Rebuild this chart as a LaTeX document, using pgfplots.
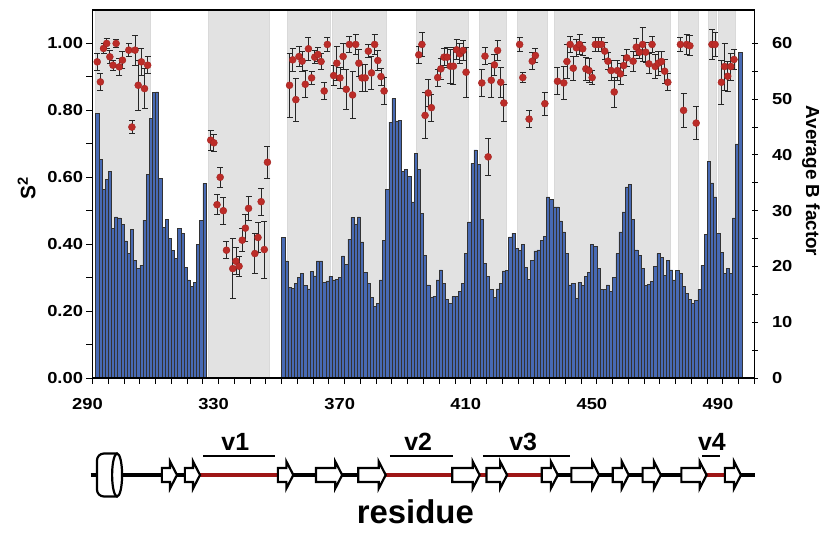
\documentclass[border=0pt]{standalone}
\usepackage{pgfplots}
\pgfplotsset{compat=1.18}
\usepackage{fontspec}
\setmainfont{Liberation Sans}
\newfontfamily\tickfont{Liberation Sans}[FakeStretch=1.15]
\usetikzlibrary{calc}

\definecolor{barblue}{RGB}{72,106,180}
\definecolor{shade}{RGB}{226,226,226}
\definecolor{dotred}{RGB}{188,44,40}
\definecolor{loopred}{RGB}{158,22,22}

\pgfplotsset{
  residueaxis/.style={
    width=662bp, height=368bp, scale only axis,
    xmin=290, xmax=500,
    tick align=outside,
    major tick length=6bp, minor tick length=6bp,
    every tick/.style={black, line width=1bp},
    axis line style={black, line width=1.4bp},
    tick label style={font=\tickfont\fontsize{16}{18}\selectfont\bfseries},
    /pgf/number format/assume math mode=true,
  },
}

\begin{document}
\begin{tikzpicture}
% right axis: average B factor (bars) and shaded segments
\begin{axis}[residueaxis,
    ymin=0, ymax=66,
    hide x axis,
    axis y line=right,
    every outer y axis line/.append style={-},
    ytick={0,10,...,60}, minor ytick={5,15,...,55},
    yticklabel style={xshift=11bp},
]
\addplot[fill=shade, draw=gray!30, line width=0.4bp] coordinates {(291,0) (291,66) (308.2,66) (308.2,0)} -- cycle;
\addplot[fill=shade, draw=gray!30, line width=0.4bp] coordinates {(326.7,0) (326.7,66) (346.2,66) (346.2,0)} -- cycle;
\addplot[fill=shade, draw=gray!30, line width=0.4bp] coordinates {(351.7,0) (351.7,66) (365.5,66) (365.5,0)} -- cycle;
\addplot[fill=shade, draw=gray!30, line width=0.4bp] coordinates {(366.0,0) (366.0,66) (383.2,66) (383.2,0)} -- cycle;
\addplot[fill=shade, draw=gray!30, line width=0.4bp] coordinates {(392.7,0) (392.7,66) (409.2,66) (409.2,0)} -- cycle;
\addplot[fill=shade, draw=gray!30, line width=0.4bp] coordinates {(412.7,0) (412.7,66) (421.2,66) (421.2,0)} -- cycle;
\addplot[fill=shade, draw=gray!30, line width=0.4bp] coordinates {(424.8,0) (424.8,66) (434.3,66) (434.3,0)} -- cycle;
\addplot[fill=shade, draw=gray!30, line width=0.4bp] coordinates {(436.5,0) (436.5,66) (473.1,66) (473.1,0)} -- cycle;
\addplot[fill=shade, draw=gray!30, line width=0.4bp] coordinates {(475.7,0) (475.7,66) (482.1,66) (482.1,0)} -- cycle;
\addplot[fill=shade, draw=gray!30, line width=0.4bp] coordinates {(485.3,0) (485.3,66) (487.8,66) (487.8,0)} -- cycle;
\addplot[fill=shade, draw=gray!30, line width=0.4bp] coordinates {(488.6,0) (488.6,66) (494.0,66) (494.0,0)} -- cycle;

% B factor, residues 291-325
\addplot[ybar, bar width=1, fill=barblue, draw=black!80, line width=0.5bp,
  x filter/.expression={x+0.5}] coordinates {
(291,47.4) (292,39.2) (293,33.8) (294,35.6) (295,37.0) (296,26.8) (297,28.9)
(298,28.7) (299,27.6) (300,24.6) (301,22.3) (302,26.6) (303,21.1) (304,19.6)
(305,20.2) (306,28.3) (307,36.5) (308,46.5) (309,51.2) (310,51.3) (311,35.8)
(312,27.0) (313,28.4) (314,25.0) (315,22.9) (316,21.4) (317,26.8) (318,26.0)
(319,19.8) (320,17.6) (321,16.4) (322,17.1) (323,24.0) (324,28.3) (325,34.9)
};
% B factor, residues 350-495
\addplot[ybar, bar width=1, fill=barblue, draw=black!80, line width=0.5bp,
  x filter/.expression={x+0.5}] coordinates {
(350,25.2) (351,21.0) (352,16.3) (353,16.1) (354,17.0) (355,18.1) (356,18.7)
(357,16.6) (358,16.0) (359,19.1) (360,18.3) (361,21.0) (362,21.0) (363,17.2)
(364,17.4) (365,18.2) (366,17.6) (367,17.7) (368,18.0) (369,21.9) (370,20.4)
(371,24.9) (372,28.8) (373,27.6) (374,28.9) (375,24.4) (376,18.9) (377,17.0)
(378,14.4) (379,12.8) (380,13.4) (381,17.6) (382,24.7) (383,33.8) (384,45.9)
(385,50.1) (386,46.1) (387,46.2) (388,37.0) (389,37.4) (390,36.1) (391,31.6)
(392,40.3) (393,37.4) (394,29.5) (395,22.0) (396,16.7) (397,14.4) (398,14.7)
(399,17.6) (400,19.4) (401,17.0) (402,14.1) (403,13.4) (404,14.6) (405,14.6)
(406,15.6) (407,17.0) (408,22.3) (409,28.0) (410,38.5) (411,40.9) (412,38.3)
(413,28.4) (414,20.6) (415,18.2) (416,15.9) (417,14.4) (418,16.0) (419,17.0)
(420,19.2) (421,19.3) (422,25.3) (423,26.0) (424,23.2) (425,22.9) (426,24.0)
(427,19.9) (428,17.7) (429,21.1) (430,22.8) (431,23.0) (432,24.7) (433,25.4)
(434,32.5) (435,32.0) (436,30.7) (437,30.7) (438,28.2) (439,26.2) (440,22.3)
(441,16.7) (442,17.0) (443,14.3) (444,17.1) (445,16.6) (446,18.2) (447,18.9)
(448,24.0) (449,23.6) (450,19.6) (451,15.9) (452,15.9) (453,16.7) (454,15.6)
(455,18.1) (456,22.3) (457,26.2) (458,29.8) (459,34.3) (460,34.7) (461,28.4)
(462,23.0) (463,22.0) (464,19.6) (465,16.6) (466,16.8) (467,17.3) (468,20.0)
(469,22.3) (470,21.6) (471,18.4) (472,21.1) (473,19.4) (474,17.6) (475,19.3)
(476,18.7) (477,16.5) (478,15.2) (479,14.1) (480,13.4) (481,13.9) (482,15.9)
(483,20.2) (484,25.7) (485,38.9) (486,35.0) (487,32.5) (488,25.9) (489,22.5)
(490,18.7) (491,19.6) (492,18.7) (493,28.7) (494,42.0) (495,58.4)
};
\end{axis}

% left axis: order parameter S2 with errors
\begin{axis}[residueaxis,
    ymin=0, ymax=1.1,
    tick pos=left,
    xtick={290,330,...,490}, minor xtick={290,295,...,500},
    ytick={0,0.2,0.4,0.6,0.8,1.0}, minor ytick={0.1,0.3,0.5,0.7,0.9},
    yticklabel style={/pgf/number format/.cd, fixed, fixed zerofill, precision=2},
    xticklabel style={xshift=-5bp, yshift=-11bp},
    clip=false,
]
\coordinate (orig) at (axis cs:290,0);
\addplot[only marks, mark=*, mark size=3.5bp,
  mark options={fill=dotred, draw=dotred!85!black, line width=0.4bp},
  x filter/.expression={x+0.5},
  error bars/.cd, y dir=both, y explicit,
  error bar style={black!85, line width=0.8bp},
  error mark options={black!85, line width=0.8bp, mark size=3bp, rotate=90}]
coordinates {
(291,0.945) +- (0,0.025) (292,0.885) +- (0,0.025) (293,0.985) +- (0,0.015)
(294,1.000) +- (0,0.015) (295,0.960) +- (0,0.020) (296,0.935) +- (0,0.015)
(297,1.000) +- (0,0.012) (298,0.930) +- (0,0.025) (299,0.950) +- (0,0.025)
(301,0.980) +- (0,0.020) (302,0.750) +- (0,0.020) (303,0.980) +- (0,0.045)
(304,0.875) +- (0,0.075) (305,0.945) +- (0,0.040) (306,0.865) +- (0,0.060)
(307,0.935) +- (0,0.025)
(327,0.711) +- (0,0.030) (328,0.703) +- (0,0.025) (329,0.518) +- (0,0.030)
(330,0.600) +- (0,0.030) (331,0.500) +- (0,0.040) (332,0.382) +- (0,0.025)
(334,0.327) +- (0,0.090) (335,0.349) +- (0,0.040) (336,0.334) +- (0,0.030)
(337,0.412) +- (0,0.035) (338,0.448) +- (0,0.040) (339,0.507) +- (0,0.035)
(341,0.372) +- (0,0.060) (342,0.420) +- (0,0.045) (343,0.527) +- (0,0.040)
(344,0.384) +- (0,0.085) (345,0.645) +- (0,0.048)
(352,0.875) +- (0,0.095) (353,0.951) +- (0,0.035) (354,0.832) +- (0,0.065)
(355,0.961) +- (0,0.030) (356,0.947) +- (0,0.030) (357,0.878) +- (0,0.040)
(358,0.984) +- (0,0.035) (359,0.897) +- (0,0.020) (360,0.959) +- (0,0.020)
(361,0.967) +- (0,0.020) (362,0.946) +- (0,0.025) (363,0.858) +- (0,0.025)
(364,0.997) +- (0,0.020) (366,0.904) +- (0,0.030) (367,0.941) +- (0,0.050)
(368,0.897) +- (0,0.030) (369,0.961) +- (0,0.040) (370,0.863) +- (0,0.060)
(371,0.997) +- (0,0.025) (372,0.846) +- (0,0.070) (373,0.997) +- (0,0.030)
(374,0.941) +- (0,0.040) (375,0.897) +- (0,0.040) (376,0.897) +- (0,0.040)
(377,0.977) +- (0,0.020) (378,0.912) +- (0,0.050) (379,0.997) +- (0,0.030)
(380,0.949) +- (0,0.030) (381,0.901) +- (0,0.025) (382,0.858) +- (0,0.040)
(393,0.966) +- (0,0.025) (394,0.997) +- (0,0.035) (395,0.785) +- (0,0.070)
(396,0.852) +- (0,0.040) (397,0.808) +- (0,0.040) (399,0.898) +- (0,0.025)
(400,0.924) +- (0,0.030) (401,0.959) +- (0,0.025) (402,0.959) +- (0,0.030)
(403,0.932) +- (0,0.050) (404,0.932) +- (0,0.055) (405,0.981) +- (0,0.030)
(406,0.969) +- (0,0.030) (407,0.979) +- (0,0.030) (408,0.914) +- (0,0.075)
(413,0.882) +- (0,0.040) (414,0.962) +- (0,0.025) (415,0.661) +- (0,0.055)
(416,0.890) +- (0,0.050) (417,0.936) +- (0,0.030) (418,0.979) +- (0,0.030)
(419,0.884) +- (0,0.045) (420,0.822) +- (0,0.055)
(425,0.997) +- (0,0.020) (426,0.898) +- (0,0.015) (428,0.774) +- (0,0.025)
(429,0.947) +- (0,0.025) (430,0.964) +- (0,0.020) (433,0.820) +- (0,0.035)
(437,0.887) +- (0,0.040) (439,0.882) +- (0,0.050) (440,0.946) +- (0,0.050)
(441,0.997) +- (0,0.025) (442,0.926) +- (0,0.035) (443,0.987) +- (0,0.025)
(444,0.997) +- (0,0.030) (445,0.984) +- (0,0.020) (446,0.924) +- (0,0.035)
(447,0.919) +- (0,0.035) (448,0.898) +- (0,0.020) (449,0.997) +- (0,0.020)
(450,0.997) +- (0,0.020) (451,0.997) +- (0,0.020) (452,0.977) +- (0,0.025)
(453,0.947) +- (0,0.025) (454,0.919) +- (0,0.030) (455,0.855) +- (0,0.045)
(456,0.919) +- (0,0.030) (457,0.909) +- (0,0.030) (458,0.934) +- (0,0.030)
(459,0.957) +- (0,0.025) (461,0.947) +- (0,0.030) (462,0.989) +- (0,0.025)
(463,0.974) +- (0,0.020) (464,0.997) +- (0,0.050) (465,0.974) +- (0,0.030)
(466,0.939) +- (0,0.030) (467,0.997) +- (0,0.025) (468,0.931) +- (0,0.035)
(469,0.941) +- (0,0.035) (470,0.946) +- (0,0.030) (471,0.917) +- (0,0.035)
(472,0.884) +- (0,0.025)
(476,0.997) +- (0,0.020) (477,0.800) +- (0,0.050) (478,0.997) +- (0,0.030)
(479,0.993) +- (0,0.030) (481,0.762) +- (0,0.050)
(486,0.997) +- (0,0.045) (487,0.997) +- (0,0.035) (489,0.884) +- (0,0.065)
(490,0.931) +- (0,0.070) (491,0.902) +- (0,0.045) (492,0.931) +- (0,0.040)
(493,0.952) +- (0,0.030)
};
\end{axis}

% axis titles
\node[rotate=90, font=\fontsize{21}{23}\selectfont\bfseries] at ($(orig)+(-66bp,190bp)$) {S\textsuperscript{2}};
\node[rotate=-90, font=\fontsize{19}{21}\selectfont\bfseries] at ($(orig)+(718.5bp,197bp)$) {Average B factor};

% secondary structure of the residues, drawn on the residue scale
\begin{scope}[shift={(orig)}, xshift=-916.7bp, yshift=-97bp, x=3.1524bp, y=1bp]
  \draw[line width=3.4bp] (290.2,0) -- (501,0);
  \foreach \a/\b in {324.9/349.6, 383.8/404.9, 413.6/415.8, 422.3/433.3, 485.6/491.4}
    \draw[line width=3.4bp, loopred] (\a,0) -- (\b,0);
  \draw[line width=2.2bp, fill=white, rounded corners=7bp]
    (298.6,-21.5) -- (292.2,-21.5) -- (292.2,21.5) -- (298.6,21.5);
  \draw[line width=2.2bp, fill=white] (298.6,0) ellipse [x radius=5bp, y radius=21.5bp];
  \foreach \a/\b in {312.8/317.6, 320.1/324.9, 349.6/354.5, 361.7/370, 375.1/383.8,
      404.9/413.6, 415.8/422.3, 433.3/438.4, 442.7/451.5, 455.8/460.9,
      465.3/471.1, 477.6/485.6, 491.4/496.5}
    \draw[line width=2.2bp, fill=white, line join=miter]
      (\a,-7) -- ({\b-2.2},-7) -- ({\b-2.2},-13.5) -- (\b,0)
      -- ({\b-2.2},13.5) -- ({\b-2.2},7) -- (\a,7) -- cycle;
  \foreach \a/\b in {325.9/348.6, 385.1/405.1, 414.6/442.2, 484.2/490}
    \draw[line width=2bp] (\a,19) -- (\b,19);
  \foreach \x/\t in {336.1/v1, 394.1/v2, 427.4/v3, 487.3/v4}
    \node[anchor=base, font=\fontsize{25}{27}\selectfont\bfseries] at (\x,25) {\t};
  \node[anchor=base, font=\fontsize{33}{35}\selectfont\bfseries] at (393.2,-48) {residue};
\end{scope}

\pgfresetboundingbox
\path[use as bounding box] ($(orig)+(-92.5bp,-156bp)$) rectangle ($(orig)+(730.5bp,378bp)$);
\end{tikzpicture}
\end{document}
